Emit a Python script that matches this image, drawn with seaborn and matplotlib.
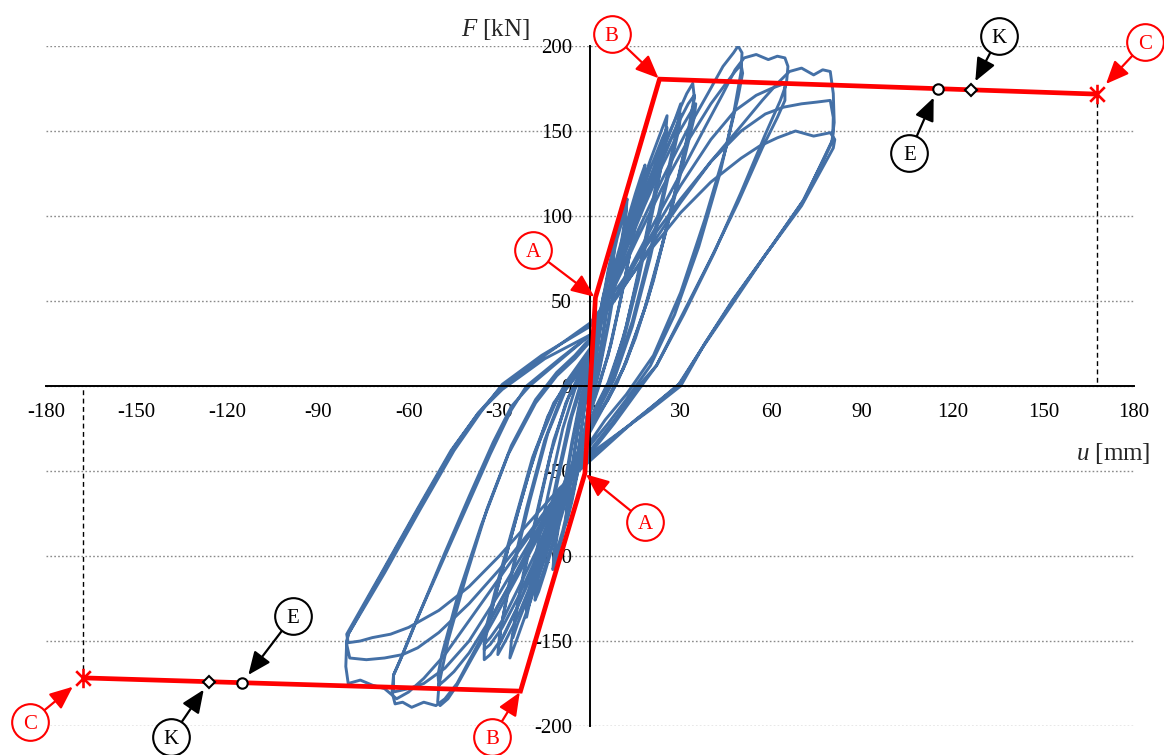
import matplotlib
matplotlib.use("Agg")
import matplotlib.pyplot as plt
from matplotlib.path import Path
import pandas as pd
import seaborn as sns

# ---------------- cyclic test record (displacement u [mm], force F [kN]) ----------------
# grouped by displacement amplitude, each group holds its repeated cycles in recorded order
u_lvl1 = [0, 1.5, 3, 4.5, 5.2, 4.8, 3, 1.5, 0, -1.5, -3, -4.5, -5.2, -4.8, -3, -1.5, 0,
          1.5, 3, 4.5, 5.0, 4.6, 3, 1.5, 0, -1.5, -3, -4.5, -5.0, -4.6, -3, -1.5, 0]
f_lvl1 = [0, 20, 40, 54, 58, 52, 30, 11, -6, -24, -42, -54, -57, -50, -28, -9, 6,
          22, 40, 53, 56, 49, 28, 10, -6, -24, -41, -52, -55, -48, -27, -8, 6]

u_lvl1b = [0, 2, 4, 6, 7.5, 8.2, 7.8, 6, 4, 2, 0, -2, -4, -6, -7.5, -8.2, -7.8, -6, -4, -2, 0,
           2, 4, 6, 7.5, 8, 7.6, 6, 4, 2, 0, -2, -4, -6, -7.5, -8, -7.6, -6, -4, -2, 0]
f_lvl1b = [4, 26, 48, 68, 80, 84, 76, 52, 28, 6, -10, -30, -50, -68, -79, -82, -74, -50, -26, -4, 8,
           25, 46, 66, 78, 81, 72, 49, 26, 5, -10, -29, -49, -66, -77, -80, -71, -48, -25, -3, 6]

u_lvl2 = [0, 3, 6, 9, 11.5, 12.3, 11.8, 9, 6, 3, 0, -3, -6, -9, -11.5, -12.3, -11.8, -9, -6, -3, 0,
          3, 6, 9, 11.5, 12, 11.5, 9, 6, 3, 0, -3, -6, -9, -11.5, -12, -11.5, -9, -6, -3, 0]
f_lvl2 = [8, 38, 66, 90, 106, 110, 100, 70, 38, 10, -12, -38, -64, -88, -104, -108, -98, -68, -36, -8, 10,
          36, 63, 87, 102, 105, 95, 66, 35, 8, -12, -37, -62, -85, -100, -103, -93, -64, -33, -6, 10]

u_lvl2b = [0, 4, 8, 12, 15, 17, 18.2, 17.8, 15, 11, 7, 3, 0, -4, -8, -12, -15, -17, -18.2, -17.8, -15, -11, -7, -3, 0,
           4, 8, 12, 15, 17, 18, 17.5, 14, 10, 6, 2, 0, -4, -8, -12, -15, -17, -18, -17.5, -14, -10, -6, -2, 0]
f_lvl2b = [12, 42, 70, 95, 113, 124, 130, 122, 95, 58, 25, 0, -16, -42, -68, -92, -110, -121, -126, -118, -90, -55, -22, 2, 14,
           40, 67, 92, 110, 120, 125, 116, 85, 50, 18, -4, -15, -40, -66, -90, -107, -117, -122, -113, -84, -50, -18, 4, 14]

u_lvl3 = [0, 5, 10, 15, 20, 24, 25.5, 25, 22, 17, 12, 7, 3, 0, -5, -10, -15, -20, -24, -26.5, -26, -23, -18, -13, -8, -4, 0,
          5, 10, 15, 20, 24, 25.5, 25, 21, 16, 11, 6, 2, 0, -5, -10, -15, -19, -21, -21, -18, -14, -9, -5, 0,
          5, 10, 15, 20, 23, 25, 24.5, 21, 16, 11, 6, 2, 0, -5, -10, -15, -20, -24, -25.5, -25, -22, -17, -12, -7, -3, 0]
f_lvl3 = [15, 48, 80, 108, 133, 152, 159, 148, 120, 75, 35, 5, -10, -22, -48, -75, -102, -128, -148, -160, -150, -120, -80, -40, -10, 5, 18,
          47, 76, 103, 128, 146, 152, 142, 108, 65, 28, 2, -12, -20, -45, -72, -98, -120, -136, -128, -100, -65, -25, -2, 15,
          44, 72, 98, 122, 138, 146, 138, 105, 62, 26, 0, -13, -21, -44, -70, -96, -122, -140, -148, -138, -110, -70, -32, -6, 6, 16]

u_lvl3b = [0, 6, 12, 18, 24, 28, 30, 29.5, 26, 20, 14, 8, 3, 0, -6, -12, -18, -24, -28, -30.5, -30, -27, -21, -15, -9, -4, 0,
           6, 12, 18, 24, 28, 30, 29.5, 26, 20, 14, 8, 3, 0, -6, -12, -18, -24, -28, -30, -29.5, -26, -20, -14, -8, -3, 0]
f_lvl3b = [18, 52, 85, 112, 138, 156, 166, 158, 128, 80, 38, 6, -12, -25, -52, -82, -110, -136, -150, -158, -148, -118, -72, -32, -4, 8, 20,
           50, 82, 108, 133, 150, 160, 152, 124, 76, 35, 4, -13, -24, -50, -79, -106, -130, -145, -152, -142, -112, -68, -28, -2, 9, 18]

u_lvl4 = [0, 6, 12, 18, 24, 29, 32, 34, 34.5, 32, 27, 21, 15, 9, 4, 0, -6, -12, -18, -24, -29, -33, -35, -35, -32, -26, -20, -14, -8, -4, 0,
          6, 12, 18, 24, 29, 32.5, 34.5, 34, 30, 24, 18, 11, 5, 0, -6, -12, -18, -24, -29, -33, -35, -34.5, -30, -24, -18, -11, -6, 0,
          6, 12, 18, 24, 29, 33, 35, 34.5, 31, 25, 19, 12, 6, 0, -6, -12, -18, -24, -29, -33, -35, -34.5, -31, -25, -19, -12, -6, 0]
f_lvl4 = [20, 55, 88, 115, 140, 160, 172, 178, 170, 145, 105, 62, 28, 2, -14, -27, -50, -78, -105, -130, -148, -158, -161, -152, -128, -88, -50, -18, 2, 12, 22,
          52, 84, 110, 135, 154, 166, 171, 160, 128, 84, 45, 10, -10, -25, -48, -75, -102, -125, -142, -152, -155, -145, -115, -75, -38, -8, 6, 20,
          50, 80, 106, 130, 148, 160, 166, 158, 132, 90, 50, 14, -8, -24, -46, -72, -98, -120, -138, -148, -152, -143, -118, -80, -42, -10, 5, 18]

u_lvl5 = [0, 8, 16, 24, 32, 39, 44, 47.5, 49, 50.3, 50, 47.5, 43, 36, 28, 20, 12, 6, 0, -8, -16, -24, -32, -39, -44, -47, -49.6, -50.4, -50, -47, -41, -34, -26, -18, -11, -5, 0,
          8, 16, 24, 32, 40, 45, 48, 50, 50.5, 49, 45, 38, 30, 21, 12, 5, 0, -8, -16, -25, -33, -40, -45, -48, -50, -50.3, -49, -44, -36, -27, -18, -11, -5, 0]
f_lvl5 = [28, 60, 92, 122, 150, 172, 188, 196, 200, 196, 185, 160, 125, 82, 42, 12, -8, -22, -35, -58, -85, -112, -138, -160, -176, -184, -188, -186, -176, -150, -112, -72, -35, -8, 8, 18, 28,
          58, 88, 117, 143, 166, 178, 185, 189, 184, 170, 140, 98, 55, 18, -5, -20, -33, -56, -82, -112, -137, -157, -168, -173, -176, -170, -158, -125, -82, -40, -10, 6, 16, 26]

u_lvl6 = [0, 10, 20, 30, 38, 44, 48, 51, 55, 59, 62, 64.5, 65.5, 65, 63, 58, 50, 41, 31, 22, 16, 8, 0,
          -10, -20, -30, -38, -44, -48, -51, -55, -59, -62, -64.5, -65.5, -65, -63, -57, -49, -40, -33, -26, -21, -10, 0,
          10, 20, 30, 40, 48, 55, 60, 64.5, 64.5, 62, 57, 49, 40, 30, 22, 17, 8, 0,
          -10, -20, -30, -40, -48, -55, -60, -65, -65, -62, -56, -48, -40, -32, -26, -20, -10, 0]
f_lvl6 = [28, 58, 92, 125, 152, 172, 186, 193, 195, 192, 194, 193, 188, 178, 168, 148, 114, 78, 42, 12, 0, -20, -38,
          -62, -95, -128, -155, -175, -184, -188, -186, -189, -186, -187, -180, -170, -162, -136, -104, -68, -40, -14, 0, 16, 30,
          56, 88, 118, 145, 162, 171, 175, 178, 168, 158, 140, 108, 75, 40, 12, 0, -22, -40,
          -62, -92, -122, -150, -166, -175, -178, -180, -170, -158, -132, -98, -65, -33, -12, 0, 15, 30]

u_lvl7 = [0, 10, 20, 30, 40, 50, 57, 62, 66, 70, 74, 77, 79.5, 80.5, 80.8, 80, 70.5, 60, 47, 38, 30, 20, 10, 0,
          -10, -20, -30, -40, -48, -55, -60, -64, -68, -72, -76, -80, -80.8, -80.5, -80, -70, -58, -45, -37, -29, -15, 0,
          10, 20, 30, 40, 50, 58, 64, 70, 75, 79.5, 80.5, 80.3, 71, 60, 48, 38, 30, 18, 8, 0,
          -10, -20, -30, -40, -50, -57, -62, -68, -74, -79.5, -80.5, -80, -68, -56, -45, -36, -29, -16, 0,
          10, 20, 30, 40, 50, 56, 62, 68, 74, 79.5, 81, 80.5, 70, 58, 47, 37, 29, 15, 0,
          -10, -20, -30, -40, -50, -56, -60, -66, -72, -76, -80, -80.5, -69, -57, -46, -37, -29, -15, 0]
f_lvl7 = [30, 55, 82, 108, 132, 153, 168, 178, 185, 187, 183, 186, 185, 172, 155, 143, 109, 82, 50, 25, 0, -14, -27, -40,
          -62, -88, -113, -138, -158, -172, -180, -184, -178, -176, -173, -175, -165, -150, -146, -114, -76, -36, -16, 0, 18, 37,
          60, 86, 110, 132, 150, 160, 164, 166, 167, 168, 158, 145, 110, 82, 52, 25, 2, -16, -30, -42,
          -62, -86, -108, -128, -145, -154, -158, -160, -161, -160, -152, -146, -110, -72, -38, -15, 1, 18, 35,
          56, 80, 102, 120, 134, 141, 146, 150, 147, 149, 145, 140, 106, 77, 48, 22, 0, -20, -44,
          -60, -80, -100, -118, -132, -138, -142, -146, -148, -150, -151, -146, -110, -72, -38, -16, -2, 16, 30]

# ---------------- idealised bilinear envelope and characteristic points ----------------
env_u = [-167.6, -23.0, -1.7, 1.8, 23.0, 167.6]
env_f = [-171.7, -179.5, -51.5, 52.0, 180.5, 171.7]
pt_E_u = [115.0, -115.0]
pt_E_f = [174.9, -174.5]
pt_K_u = [126.0, -126.0]
pt_K_f = [174.2, -173.9]
pt_C_u = [167.6, -167.6]
pt_C_f = [171.7, -171.7]

x_ticks = list(range(-180, 181, 30))
y_ticks = list(range(-200, 201, 50))

# ---------------- style ----------------
sns.set_theme(style="white")
plt.rcParams["font.family"] = ["Liberation Serif", "DejaVu Serif"]
plt.rcParams["mathtext.fontset"] = "custom"
plt.rcParams["mathtext.rm"] = "Liberation Serif"
plt.rcParams["mathtext.it"] = "Liberation Serif:italic"
plt.rcParams["axes.unicode_minus"] = False

BLUE = "#4470a6"
RED = "#ff0000"

fig = plt.figure(figsize=(11.64, 7.55), dpi=100)
ax = fig.add_axes([46 / 1164, 1 - 726 / 755, 1088 / 1164, 680 / 755])

# hysteresis loops
levels = [(u_lvl1, f_lvl1), (u_lvl1b, f_lvl1b), (u_lvl2, f_lvl2), (u_lvl2b, f_lvl2b),
          (u_lvl3, f_lvl3), (u_lvl3b, f_lvl3b), (u_lvl4, f_lvl4), (u_lvl5, f_lvl5),
          (u_lvl6, f_lvl6), (u_lvl7, f_lvl7)]
loops = pd.concat(
    [pd.DataFrame({"u": u, "F": f, "level": i}) for i, (u, f) in enumerate(levels)],
    ignore_index=True,
)
sns.lineplot(data=loops, x="u", y="F", units="level", estimator=None, sort=False,
             color=BLUE, lw=2.1, ax=ax, legend=False, zorder=2)

# envelope
sns.lineplot(x=env_u, y=env_f, sort=False, estimator=None, color=RED, lw=3.4,
             ax=ax, zorder=4, solid_joinstyle="miter")

# dashed drop lines from ultimate points to the displacement axis
for cu, cf in zip(pt_C_u, pt_C_f):
    ax.plot([cu, cu], [cf, 0], color="black", lw=1.0, ls=(0, (3.5, 2.5)), zorder=3)

# characteristic point markers
star = Path([(0, -1), (0, 1), (-0.75, -0.75), (0.75, 0.75), (-0.75, 0.75), (0.75, -0.75)],
            [Path.MOVETO, Path.LINETO, Path.MOVETO, Path.LINETO, Path.MOVETO, Path.LINETO])
ax.plot(pt_C_u, pt_C_f, ls="none", marker=star, ms=14, mew=1.9, color=RED, zorder=5)
ax.plot(pt_E_u, pt_E_f, ls="none", marker="o", ms=7.5, mfc="white", mec="black", mew=1.5, zorder=6)
ax.plot(pt_K_u, pt_K_f, ls="none", marker="D", ms=6.5, mfc="white", mec="black", mew=1.5, zorder=6)

# call-outs: letter, colour, circle centre, target point, gap at the tip (pt)
callouts = [
    ("A", RED, (-18.8, 79.8), (env_u[3], env_f[3]), 1),
    ("B", RED, (7.2, 207.3), (env_u[4], env_f[4]), 1),
    ("C", RED, (183.7, 202.4), (pt_C_u[0], pt_C_f[0]), 10),
    ("E", "black", (105.7, 137.1), (pt_E_u[0], pt_E_f[0]), 7),
    ("K", "black", (135.3, 205.7), (pt_K_u[0], pt_K_f[0]), 7),
    ("A", RED, (18.2, -80.2), (env_u[2], env_f[2]), 1),
    ("B", RED, (-32.4, -206.7), (env_u[1], env_f[1]), 1),
    ("C", RED, (-185.2, -197.6), (pt_C_u[1], pt_C_f[1]), 10),
    ("E", "black", (-98.3, -135.5), (pt_E_u[1], pt_E_f[1]), 7),
    ("K", "black", (-138.5, -206.5), (pt_K_u[1], pt_K_f[1]), 7),
]
R_PT = 13.2
for letter, col, (cx, cy), (tx, ty), gap in callouts:
    ax.annotate("", xy=(tx, ty), xytext=(cx, cy),
                arrowprops=dict(arrowstyle="-|>,head_length=0.7,head_width=0.3",
                                mutation_scale=20, color=col, lw=1.6,
                                shrinkA=R_PT, shrinkB=gap),
                annotation_clip=False, zorder=7)
    ax.plot([cx], [cy], marker="o", ms=2 * R_PT, mfc="white", mec=col, mew=1.5,
            clip_on=False, zorder=8)
    ax.text(cx, cy, letter, ha="center", va="center_baseline", fontsize=15, color=col,
            zorder=9, clip_on=False)

# axes through the origin
ax.set_xlim(-180, 180)
ax.set_ylim(-200, 200)
ax.set_xticks(x_ticks)
ax.set_yticks(y_ticks)
ax.set_xticklabels([str(t) for t in x_ticks])
ax.set_yticklabels([str(t) for t in y_ticks])
ax.spines["left"].set_position(("data", 0))
ax.spines["bottom"].set_position(("data", 0))
for side in ("top", "right"):
    ax.spines[side].set_visible(False)
for side in ("left", "bottom"):
    ax.spines[side].set_linewidth(1.4)
    ax.spines[side].set_color("black")
ax.tick_params(axis="both", direction="out", length=4, width=1.4, colors="black", labelsize=15)
ax.tick_params(axis="x", pad=8.5)
ax.tick_params(axis="y", pad=9)
ax.set_xlabel("")
ax.set_ylabel("")
ax.yaxis.grid(True, color="#8a8a8a", lw=1.0, ls=(0, (1.2, 1.6)))
ax.xaxis.grid(False)
ax.set_axisbelow(True)
ax.patch.set_alpha(0)

fig.text(530 / 1164, 1 - 30 / 755, r"$F$ [kN]", ha="right", va="center", fontsize=18)
fig.text(1150 / 1164, 1 - 453 / 755, r"$u$ [mm]", ha="right", va="center", fontsize=18)

fig.savefig("out.png", dpi=100)
